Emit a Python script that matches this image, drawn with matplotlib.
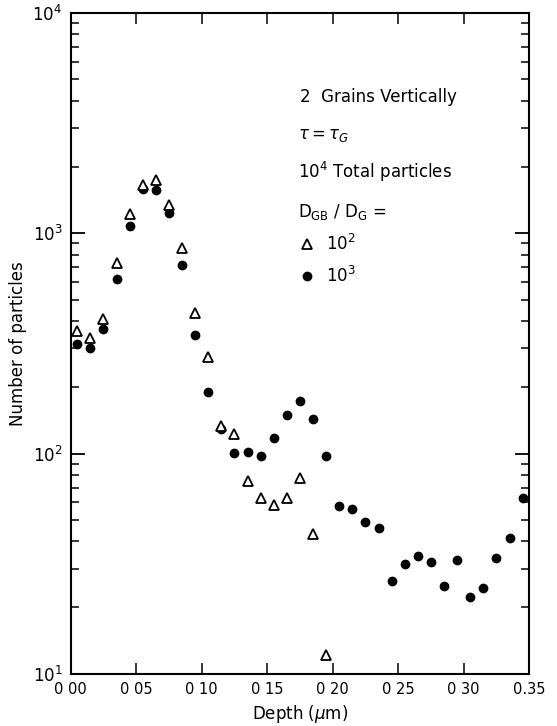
import matplotlib
matplotlib.use("Agg")
import matplotlib.pyplot as plt
from matplotlib.ticker import LogLocator, NullFormatter

# depth (um) of each bin centre
depth_tri = [0.005, 0.015, 0.025, 0.035, 0.045, 0.055, 0.065, 0.075, 0.085, 0.095,
             0.105, 0.115, 0.125, 0.135, 0.145, 0.155, 0.165, 0.175, 0.185, 0.195]
# D_GB/D_G = 10^2
n_tri = [359, 336, 409, 733, 1225, 1664, 1747, 1346, 861, 433,
         273, 134, 123, 75, 63, 58.5, 63, 77.5, 43, 12.2]

depth_dot = [0.005, 0.015, 0.025, 0.035, 0.045, 0.055, 0.065, 0.075, 0.085, 0.095,
             0.105, 0.115, 0.125, 0.135, 0.145, 0.155, 0.165, 0.175, 0.185, 0.195,
             0.205, 0.215, 0.225, 0.235, 0.245, 0.255, 0.265, 0.275, 0.285, 0.295,
             0.305, 0.315, 0.325, 0.335, 0.345]
# D_GB/D_G = 10^3
n_dot = [315, 300, 366, 617, 1079, 1585, 1580, 1241, 721, 344,
         190, 129, 101, 102, 97, 117, 150, 174, 144, 97,
         57.6, 55.8, 48.7, 45.7, 26.3, 31.4, 34.4, 32.2, 25.1, 33,
         22.2, 24.5, 33.4, 41.2, 63]

xticks = [0.0, 0.05, 0.10, 0.15, 0.20, 0.25, 0.30, 0.35]
xticklabels = ['0 00', '0 05', '0 10', '0 15', '0 20', '0 25', '0 30', '0.35']

fig = plt.figure(figsize=(5.57, 7.26), dpi=100)
ax = fig.add_axes([0.127, 0.072, 0.823, 0.910])

ax.plot(depth_tri, n_tri, ls='none', marker='^', ms=6.5, mfc='white', mec='black',
        mew=1.3, label='$10^2$', zorder=3)
ax.plot(depth_dot, n_dot, ls='none', marker='o', ms=6, mfc='black', mec='black',
        label='$10^3$', zorder=2)

ax.set_yscale('log')
ax.set_xlim(0, 0.35)
ax.set_ylim(10, 1e4)
ax.set_xticks(xticks)
ax.set_xticklabels(xticklabels, fontsize=10.5)
ax.yaxis.set_major_locator(LogLocator(base=10, numticks=10))
ax.yaxis.set_minor_locator(LogLocator(base=10, subs=range(2, 10), numticks=20))
ax.yaxis.set_minor_formatter(NullFormatter())
ax.tick_params(axis='both', which='both', direction='in', top=True, right=True)
ax.tick_params(axis='y', which='major', length=10, width=1.3, labelsize=12, pad=6)
ax.tick_params(axis='y', which='minor', length=6, width=1.1)
ax.tick_params(axis='x', which='major', length=8, width=1.1, pad=6)
for s in ax.spines.values():
    s.set_linewidth(1.5)

ax.set_xlabel(r'Depth ($\mu$m)', fontsize=12)
ax.set_ylabel('Number of particles', fontsize=12)

ax.text(0.50, 0.873, '2  Grains Vertically', transform=ax.transAxes, fontsize=12, va='center')
ax.text(0.496, 0.815, r'$\tau = \tau_G$', transform=ax.transAxes, fontsize=12, va='center')
ax.text(0.496, 0.759, r'$10^4$ Total particles', transform=ax.transAxes, fontsize=12, va='center')
ax.text(0.496, 0.699, r'$\mathrm{D_{GB}\ /\ D_G}$ =', transform=ax.transAxes, fontsize=12, va='center')

ax.legend(loc='upper left', bbox_to_anchor=(0.48, 0.678), frameon=False, fontsize=12,
          handlelength=1.0, handletextpad=0.6, labelspacing=0.7, borderpad=0)

fig.savefig('out.png', dpi=100)
